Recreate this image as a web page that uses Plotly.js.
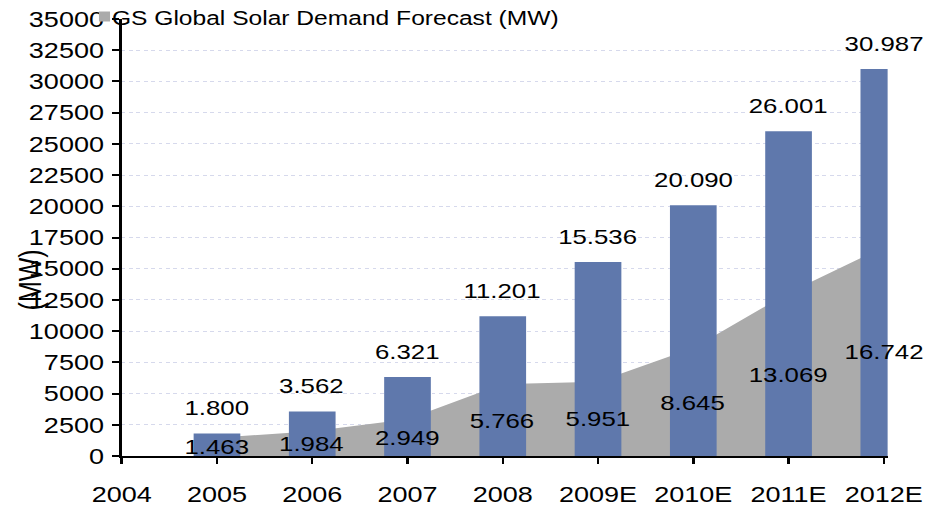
<!DOCTYPE html>
<html>
<head>
<meta charset="utf-8">
<script src="https://cdn.plot.ly/plotly-3.0.1.min.js"></script>
<style>
  html, body { margin: 0; padding: 0; background: #fff; overflow: hidden; }
  /* chart is laid out narrower and widened horizontally to get the wide lettering */
  #wrap { width: 763px; height: 507px; transform: scaleX(1.2294); transform-origin: 0 0; }
  #chart { width: 763px; height: 507px; }
</style>
</head>
<body>
<div id="wrap"><div id="chart"></div></div>
<script>
// Category axis (2004 sits on the left edge, no data)
const categories = ['2004', '2005', '2006', '2007', '2008', '2009E', '2010E', '2011E', '2012E'];
// Years that carry values
const years = ['2005', '2006', '2007', '2008', '2009E', '2010E', '2011E', '2012E'];
// Blue columns (MW)
const columnValues = [1800, 3562, 6321, 11201, 15536, 20090, 26001, 30987];
// Grey area: GS Global Solar Demand Forecast (MW)
const demandForecast = [1463, 1984, 2949, 5766, 5951, 8645, 13069, 16742];

const legendLabel = 'GS Global Solar Demand Forecast (MW)';
const axisLabel = '(MW)';

const FONT = 'Liberation Sans, Arial, Helvetica, sans-serif';
const BLUE = '#5F78AC';
const GREY = '#ABABAB';

// 1800 -> "1.800"
function fmt(v) {
  return String(Math.round(v)).replace(/\B(?=(\d{3})+(?!\d))/g, '.');
}

const areaTrace = {
  type: 'scatter',
  x: years,
  y: demandForecast,
  mode: 'none',
  fill: 'tozeroy',
  fillcolor: GREY,
  showlegend: false,
  hoverinfo: 'skip',
  xaxis: 'x',
  yaxis: 'y'
};

// columns sit on an overlaid pair of axes so they are drawn above the area
const barTrace = {
  type: 'bar',
  x: years,
  y: columnValues,
  width: 0.49,
  marker: { color: BLUE, line: { width: 0 } },
  showlegend: false,
  hoverinfo: 'skip',
  xaxis: 'x2',
  yaxis: 'y2'
};

const annotations = [];
years.forEach((yr, i) => {
  const xi = categories.indexOf(yr);
  annotations.push({
    xref: 'x', yref: 'y', x: xi, y: columnValues[i],
    text: fmt(columnValues[i]), showarrow: false,
    xanchor: 'center', yanchor: 'middle', yshift: 26,
    font: { family: FONT, size: 21, color: '#000' }
  });
  annotations.push({
    xref: 'x', yref: 'y', x: xi, y: demandForecast[i] / 2,
    text: fmt(demandForecast[i]), showarrow: false,
    xanchor: 'center', yanchor: 'middle',
    font: { family: FONT, size: 21, color: '#000' }
  });
});

// legend key and text
annotations.push({
  xref: 'paper', yref: 'paper', x: -0.0231, y: 1.0057,
  text: '&nbsp;', showarrow: false, width: 8, height: 9, borderpad: 0,
  bgcolor: GREY, xanchor: 'center', yanchor: 'middle',
  font: { family: FONT, size: 6, color: GREY }
});
annotations.push({
  xref: 'paper', yref: 'paper', x: -0.0154, y: 1.0023,
  text: legendLabel, showarrow: false,
  xanchor: 'left', yanchor: 'middle',
  font: { family: FONT, size: 20, color: '#000' }
});
// vertical axis label
annotations.push({
  xref: 'paper', yref: 'paper', x: -0.1197, y: 0.4027,
  text: axisLabel, showarrow: false, textangle: -90,
  xanchor: 'center', yanchor: 'middle',
  font: { family: FONT, size: 25, color: '#000' }
});

const layout = {
  width: 763,
  height: 507,
  margin: { l: 99, r: 41, t: 19, b: 51, pad: 0 },
  paper_bgcolor: '#fff',
  plot_bgcolor: '#fff',
  font: { family: FONT, size: 22, color: '#000' },
  showlegend: false,
  xaxis: {
    type: 'category',
    categoryorder: 'array',
    categoryarray: categories,
    range: [0, 8.04],
    showgrid: false,
    zeroline: false,
    showline: true, linecolor: '#000', linewidth: 2,
    ticks: 'outside', ticklen: 6, tickwidth: 2, tickcolor: '#000',
    ticklabelstandoff: 12,
    tickfont: { family: FONT, size: 22, color: '#000' }
  },
  yaxis: {
    range: [0, 35000],
    dtick: 2500,
    tick0: 0,
    tickformat: 'd',
    showgrid: true, gridcolor: '#D6D9EC', gridwidth: 1, griddash: 'dot',
    zeroline: false,
    showline: true, linecolor: '#000', linewidth: 2,
    ticks: 'outside', ticklen: 6, tickwidth: 2, tickcolor: '#000',
    ticklabelstandoff: 2,
    tickfont: { family: FONT, size: 22, color: '#000' }
  },
  xaxis2: {
    type: 'category',
    categoryorder: 'array',
    categoryarray: categories,
    overlaying: 'x',
    matches: 'x',
    visible: false
  },
  yaxis2: {
    overlaying: 'y',
    matches: 'y',
    visible: false
  },
  annotations: annotations
};

Plotly.newPlot('chart', [areaTrace, barTrace], layout, { staticPlot: true, displayModeBar: false });
</script>
</body>
</html>
